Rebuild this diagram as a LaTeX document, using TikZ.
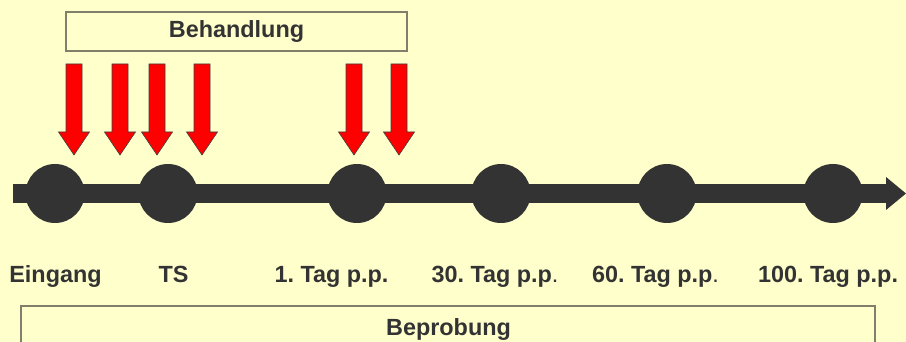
\documentclass[tikz,border=0pt]{standalone}
\usepackage{fontspec}
\setmainfont{Liberation Sans}
\frenchspacing
\definecolor{bgyellow}{HTML}{FFFFCC}
\definecolor{ink}{HTML}{333333}
\definecolor{frame}{HTML}{7F7F6C}
\definecolor{arrowred}{HTML}{FF0000}
\begin{document}
\begin{tikzpicture}[x=1pt,y=-1pt,
  labeltext/.style={font=\fontsize{23.4}{27}\selectfont\bfseries, text=ink, inner sep=0pt},
  phasebox/.style={draw=frame, line width=1.1pt, fill=bgyellow},
  stationdot/.style={circle, fill=ink, minimum size=59pt, inner sep=0pt},
  redarrow/.style={fill=arrowred, draw=black!75, line width=0.6pt, line join=miter}
]
  % canvas
  \useasboundingbox (0,0) rectangle (906,342);
  \fill[bgyellow] (0,0) rectangle (906,342);

  % treatment box
  \draw[phasebox] (66,12) rectangle (407,51);
  \node[labeltext] (behandlung) at (236.5,31.5) {Behandlung};

  % sampling box (runs off the lower edge)
  \draw[phasebox] (21,306) rectangle (875,370);
  \node[labeltext, anchor=base] (beprobung) at (448.5,335) {Beprobung};

  % time axis
  \coordinate (axisstart) at (13,193.5);
  \coordinate (axishead) at (886,193.5);
  \coordinate (axistip) at (906,193.5);
  \draw[ink, line width=19.5pt] (axisstart) -- (axishead);
  \fill[ink] (886,177) -- (axistip) -- (886,210) -- cycle;

  % time points
  \node[stationdot] (eingang) at (55,193.5) {};
  \node[stationdot] (ts) at (168,193.5) {};
  \node[stationdot] (tag1) at (357,193.5) {};
  \node[stationdot] (tag30) at (501,193.5) {};
  \node[stationdot] (tag60) at (667,193.5) {};
  \node[stationdot] (tag100) at (833,193.5) {};

  % treatment arrows
  \foreach \ax in {74,120,157,202,354,399} {
    \draw[redarrow] (\ax-8,64) -- (\ax+8,64) -- (\ax+8,132) -- (\ax+15.5,132)
      -- (\ax,155) -- (\ax-15.5,132) -- (\ax-8,132) -- cycle;
  }

  % labels
  \node[labeltext, anchor=base] (leingang) at (55.5,282) {Eingang};
  \node[labeltext, anchor=base] (lts) at (173.5,282) {TS};
  \node[labeltext, anchor=base] (ltag1) at (331.5,282) {1. Tag p.p.};
  \node[labeltext, anchor=base] (ltag30) at (495,282) {30. Tag p.p{\mdseries .}};
  \node[labeltext, anchor=base] (ltag60) at (655.5,282) {60. Tag p.p{\mdseries .}};
  \node[labeltext, anchor=base] (ltag100) at (828,282) {100. Tag p.p.};
\end{tikzpicture}
\end{document}
